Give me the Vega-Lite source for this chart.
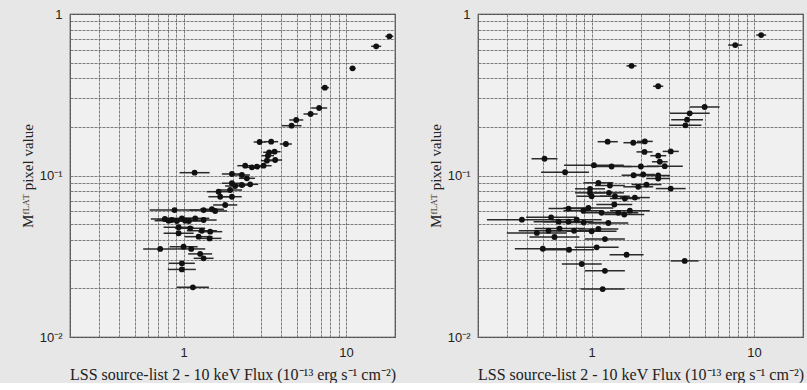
{
  "$schema": "https://vega.github.io/schema/vega-lite/v6.json",
  "padding": {"left": 19, "top": 7, "right": 0, "bottom": 0},
  "background": "#e7e7e7",
  "bounds": "flush",
  "spacing": 83,
  "config": {
    "view": {"stroke": "#333333", "strokeWidth": 1.2, "fill": "#f0f0f0"},
    "axis": {
      "grid": true,
      "gridColor": "#6e6e6e",
      "gridDash": [3, 1],
      "gridWidth": 0.9,
      "gridOpacity": 1,
      "ticks": false,
      "domain": false,
      "labelFont": "Liberation Sans",
      "labelFontSize": 13,
      "labelColor": "#222222",
      "labelOverlap": false,
      "labelFlush": false,
      "titleFont": "Liberation Serif",
      "titleFontSize": 15,
      "titleFontWeight": "normal",
      "titleColor": "#222222"
    }
  },
  "datasets": {
    "left": [
      {"F": 18.47, "M": 0.7276, "lo": 17.45, "hi": 19.55},
      {"F": 15.32, "M": 0.631, "lo": 14.27, "hi": 16.44},
      {"F": 10.96, "M": 0.461, "lo": 10.51, "hi": 11.44},
      {"F": 7.405, "M": 0.35, "lo": 7.0, "hi": 7.84},
      {"F": 6.831, "M": 0.2618, "lo": 6.1, "hi": 7.65},
      {"F": 6.046, "M": 0.2403, "lo": 5.47, "hi": 6.68},
      {"F": 4.931, "M": 0.2207, "lo": 4.47, "hi": 5.45},
      {"F": 4.619, "M": 0.2034, "lo": 4.01, "hi": 5.32},
      {"F": 2.936, "M": 0.1612, "lo": 2.7, "hi": 3.2},
      {"F": 3.46, "M": 0.1619, "lo": 3.13, "hi": 3.82},
      {"F": 4.262, "M": 0.1567, "lo": 3.91, "hi": 4.64},
      {"F": 3.631, "M": 0.1404, "lo": 3.33, "hi": 3.95},
      {"F": 3.364, "M": 0.1392, "lo": 3.09, "hi": 3.66},
      {"F": 3.303, "M": 0.1326, "lo": 3.03, "hi": 3.6},
      {"F": 3.662, "M": 0.1247, "lo": 3.32, "hi": 4.04},
      {"F": 3.256, "M": 0.1235, "lo": 2.99, "hi": 3.55},
      {"F": 2.394, "M": 0.115, "lo": 2.14, "hi": 2.68},
      {"F": 2.633, "M": 0.1124, "lo": 2.35, "hi": 2.95},
      {"F": 2.826, "M": 0.1134, "lo": 2.56, "hi": 3.12},
      {"F": 3.107, "M": 0.115, "lo": 2.77, "hi": 3.48},
      {"F": 1.169, "M": 0.1041, "lo": 0.945, "hi": 1.446},
      {"F": 1.983, "M": 0.1022, "lo": 1.72, "hi": 2.28},
      {"F": 2.285, "M": 0.1007, "lo": 2.04, "hi": 2.56},
      {"F": 2.452, "M": 0.0961, "lo": 2.19, "hi": 2.75},
      {"F": 1.983, "M": 0.0895, "lo": 1.72, "hi": 2.28},
      {"F": 2.077, "M": 0.0861, "lo": 1.8, "hi": 2.39},
      {"F": 2.285, "M": 0.0873, "lo": 1.98, "hi": 2.63},
      {"F": 2.57, "M": 0.0882, "lo": 2.29, "hi": 2.88},
      {"F": 1.935, "M": 0.0813, "lo": 1.63, "hi": 2.29},
      {"F": 1.642, "M": 0.0794, "lo": 1.39, "hi": 1.95},
      {"F": 1.68, "M": 0.0739, "lo": 1.42, "hi": 1.99},
      {"F": 1.983, "M": 0.0739, "lo": 1.72, "hi": 2.28},
      {"F": 1.803, "M": 0.0657, "lo": 1.52, "hi": 2.14},
      {"F": 1.494, "M": 0.0618, "lo": 1.26, "hi": 1.77},
      {"F": 1.328, "M": 0.0611, "lo": 1.09, "hi": 1.62},
      {"F": 1.565, "M": 0.0603, "lo": 1.32, "hi": 1.85},
      {"F": 0.88, "M": 0.0611, "lo": 0.618, "hi": 1.254},
      {"F": 0.976, "M": 0.0543, "lo": 0.789, "hi": 1.207},
      {"F": 0.847, "M": 0.053, "lo": 0.685, "hi": 1.048},
      {"F": 0.808, "M": 0.0525, "lo": 0.663, "hi": 0.986},
      {"F": 1.023, "M": 0.0525, "lo": 0.827, "hi": 1.265},
      {"F": 1.179, "M": 0.0543, "lo": 0.967, "hi": 1.438},
      {"F": 1.328, "M": 0.053, "lo": 1.105, "hi": 1.597},
      {"F": 0.932, "M": 0.0478, "lo": 0.753, "hi": 1.153},
      {"F": 1.098, "M": 0.0471, "lo": 0.888, "hi": 1.358},
      {"F": 1.296, "M": 0.0455, "lo": 1.048, "hi": 1.603},
      {"F": 0.932, "M": 0.0439, "lo": 0.753, "hi": 1.153},
      {"F": 1.458, "M": 0.0449, "lo": 1.23, "hi": 1.73},
      {"F": 1.237, "M": 0.0418, "lo": 1.014, "hi": 1.509},
      {"F": 1.445, "M": 0.0408, "lo": 1.22, "hi": 1.71},
      {"F": 0.718, "M": 0.0351, "lo": 0.564, "hi": 0.914},
      {"F": 1.0, "M": 0.0362, "lo": 0.82, "hi": 1.22},
      {"F": 1.114, "M": 0.0351, "lo": 0.913, "hi": 1.359},
      {"F": 1.265, "M": 0.0327, "lo": 1.067, "hi": 1.499},
      {"F": 1.328, "M": 0.0307, "lo": 1.153, "hi": 1.53},
      {"F": 0.976, "M": 0.0286, "lo": 0.812, "hi": 1.173},
      {"F": 0.976, "M": 0.0262, "lo": 0.8, "hi": 1.19},
      {"F": 1.141, "M": 0.0203, "lo": 0.909, "hi": 1.431},
      {"F": 0.767, "M": 0.0538, "lo": 0.629, "hi": 0.935},
      {"F": 0.909, "M": 0.0523, "lo": 0.745, "hi": 1.109},
      {"F": 1.078, "M": 0.0523, "lo": 0.897, "hi": 1.296}
    ],
    "right": [
      {"F": 11.06, "M": 0.7406, "lo": 10.31, "hi": 11.87},
      {"F": 7.656, "M": 0.642, "lo": 6.93, "hi": 8.45},
      {"F": 1.762, "M": 0.4775, "lo": 1.64, "hi": 1.89},
      {"F": 2.57, "M": 0.357, "lo": 2.39, "hi": 2.76},
      {"F": 4.963, "M": 0.2656, "lo": 4.02, "hi": 6.13},
      {"F": 4.015, "M": 0.2427, "lo": 3.03, "hi": 5.33},
      {"F": 3.87, "M": 0.2218, "lo": 3.09, "hi": 4.85},
      {"F": 3.779, "M": 0.2044, "lo": 3.01, "hi": 4.74},
      {"F": 1.255, "M": 0.1619, "lo": 1.09, "hi": 1.45},
      {"F": 1.805, "M": 0.1596, "lo": 1.57, "hi": 2.08},
      {"F": 2.126, "M": 0.1626, "lo": 1.9, "hi": 2.38},
      {"F": 0.5133, "M": 0.127, "lo": 0.427, "hi": 0.617},
      {"F": 2.117, "M": 0.14, "lo": 1.89, "hi": 2.37},
      {"F": 3.07, "M": 0.141, "lo": 2.74, "hi": 3.44},
      {"F": 2.57, "M": 0.1326, "lo": 2.3, "hi": 2.88},
      {"F": 2.629, "M": 0.1216, "lo": 2.35, "hi": 2.94},
      {"F": 1.034, "M": 0.1159, "lo": 0.677, "hi": 1.58},
      {"F": 1.328, "M": 0.1137, "lo": 1.0, "hi": 1.76},
      {"F": 2.01, "M": 0.1137, "lo": 1.56, "hi": 2.59},
      {"F": 2.82, "M": 0.1142, "lo": 2.19, "hi": 3.64},
      {"F": 0.687, "M": 0.1048, "lo": 0.489, "hi": 0.964},
      {"F": 1.813, "M": 0.1004, "lo": 1.53, "hi": 2.15},
      {"F": 2.078, "M": 0.1014, "lo": 1.75, "hi": 2.46},
      {"F": 2.57, "M": 0.1, "lo": 2.17, "hi": 3.04},
      {"F": 2.57, "M": 0.0958, "lo": 2.17, "hi": 3.04},
      {"F": 1.101, "M": 0.0901, "lo": 0.891, "hi": 1.361},
      {"F": 1.297, "M": 0.0867, "lo": 1.049, "hi": 1.603},
      {"F": 1.937, "M": 0.0851, "lo": 1.567, "hi": 2.394},
      {"F": 2.178, "M": 0.0879, "lo": 1.762, "hi": 2.692},
      {"F": 3.07, "M": 0.083, "lo": 2.484, "hi": 3.794},
      {"F": 0.978, "M": 0.0827, "lo": 0.791, "hi": 1.209},
      {"F": 0.978, "M": 0.0781, "lo": 0.791, "hi": 1.209},
      {"F": 1.001, "M": 0.0744, "lo": 0.81, "hi": 1.237},
      {"F": 1.279, "M": 0.0781, "lo": 1.035, "hi": 1.581},
      {"F": 1.392, "M": 0.0744, "lo": 1.126, "hi": 1.72},
      {"F": 1.603, "M": 0.072, "lo": 1.297, "hi": 1.981},
      {"F": 1.846, "M": 0.073, "lo": 1.494, "hi": 2.282},
      {"F": 1.38, "M": 0.0661, "lo": 1.07, "hi": 1.78},
      {"F": 0.956, "M": 0.063, "lo": 0.671, "hi": 1.361},
      {"F": 0.891, "M": 0.0606, "lo": 0.672, "hi": 1.182},
      {"F": 1.153, "M": 0.0587, "lo": 0.869, "hi": 1.53},
      {"F": 0.721, "M": 0.0624, "lo": 0.543, "hi": 0.956},
      {"F": 1.46, "M": 0.0587, "lo": 1.101, "hi": 1.937},
      {"F": 1.589, "M": 0.0573, "lo": 1.198, "hi": 2.108},
      {"F": 1.72, "M": 0.0606, "lo": 1.297, "hi": 2.282},
      {"F": 0.3725, "M": 0.0533, "lo": 0.227, "hi": 0.611},
      {"F": 0.5635, "M": 0.0551, "lo": 0.396, "hi": 0.802},
      {"F": 0.6257, "M": 0.0518, "lo": 0.44, "hi": 0.891},
      {"F": 0.721, "M": 0.0518, "lo": 0.506, "hi": 1.026},
      {"F": 0.81, "M": 0.0533, "lo": 0.569, "hi": 1.153},
      {"F": 0.894, "M": 0.0511, "lo": 0.628, "hi": 1.273},
      {"F": 1.268, "M": 0.0508, "lo": 0.956, "hi": 1.682},
      {"F": 0.4604, "M": 0.0441, "lo": 0.301, "hi": 0.703},
      {"F": 0.5433, "M": 0.0455, "lo": 0.356, "hi": 0.83},
      {"F": 0.6347, "M": 0.0469, "lo": 0.446, "hi": 0.904},
      {"F": 0.78, "M": 0.0455, "lo": 0.548, "hi": 1.11},
      {"F": 1.001, "M": 0.0451, "lo": 0.703, "hi": 1.425},
      {"F": 1.101, "M": 0.0467, "lo": 0.83, "hi": 1.461},
      {"F": 0.591, "M": 0.0416, "lo": 0.415, "hi": 0.841},
      {"F": 1.208, "M": 0.0404, "lo": 0.911, "hi": 1.603},
      {"F": 0.501, "M": 0.0352, "lo": 0.337, "hi": 0.744},
      {"F": 0.727, "M": 0.0347, "lo": 0.511, "hi": 1.035},
      {"F": 1.075, "M": 0.0359, "lo": 0.788, "hi": 1.467},
      {"F": 1.642, "M": 0.0323, "lo": 1.291, "hi": 2.088},
      {"F": 3.741, "M": 0.0296, "lo": 3.07, "hi": 4.558},
      {"F": 0.87, "M": 0.0283, "lo": 0.656, "hi": 1.154},
      {"F": 1.208, "M": 0.0257, "lo": 0.911, "hi": 1.603},
      {"F": 1.17, "M": 0.0198, "lo": 0.857, "hi": 1.597}
    ]
  },
  "hconcat": [
    {
      "width": 325,
      "height": 323,
      "data": {"name": "left"},
      "encoding": {
        "y": {
          "field": "M", "type": "quantitative",
          "scale": {"type": "log", "domain": [0.01, 1], "nice": false},
          "title": "Mᶠᴸᴬᵀ pixel value",
          "axis": {
            "values": [0.01, 0.02, 0.03, 0.04, 0.05, 0.06, 0.07, 0.08, 0.09, 0.1, 0.2, 0.3, 0.4, 0.5, 0.6, 0.7, 0.8, 0.9, 1],
            "labelExpr": "datum.value == 1 ? '1' : datum.value == 0.1 ? '10⁻¹' : datum.value == 0.01 ? '10⁻²' : ''",
            "labelPadding": 8,
            "titlePadding": 4
          }
        }
      },
      "layer": [
        {
          "mark": {"type": "rule", "color": "#2a2a2a", "strokeWidth": 1.5},
          "encoding": {
            "x": {
              "field": "lo", "type": "quantitative",
              "scale": {"type": "log", "domain": [0.2, 20], "nice": false},
              "title": "LSS source-list  2 - 10 keV Flux (10⁻¹³ erg s⁻¹ cm⁻²)",
              "axis": {
                "values": [0.2, 0.3, 0.4, 0.5, 0.6, 0.7, 0.8, 0.9, 1, 2, 3, 4, 5, 6, 7, 8, 9, 10, 20],
                "labelExpr": "datum.value == 1 ? '1' : datum.value == 10 ? '10' : ''",
                "labelPadding": 9,
                "titlePadding": 7,
                "titleFontSize": 16
              }
            },
            "x2": {"field": "hi"}
          }
        },
        {
          "mark": {"type": "circle", "color": "#111111", "size": 34, "opacity": 1},
          "encoding": {
            "x": {"field": "F", "type": "quantitative", "title": "LSS source-list  2 - 10 keV Flux (10⁻¹³ erg s⁻¹ cm⁻²)"}
          }
        }
      ]
    },
    {
      "width": 325,
      "height": 323,
      "data": {"name": "right"},
      "encoding": {
        "y": {
          "field": "M", "type": "quantitative",
          "scale": {"type": "log", "domain": [0.01, 1], "nice": false},
          "title": "Mᶠᴸᴬᵀ pixel value",
          "axis": {
            "values": [0.01, 0.02, 0.03, 0.04, 0.05, 0.06, 0.07, 0.08, 0.09, 0.1, 0.2, 0.3, 0.4, 0.5, 0.6, 0.7, 0.8, 0.9, 1],
            "labelExpr": "datum.value == 1 ? '1' : datum.value == 0.1 ? '10⁻¹' : datum.value == 0.01 ? '10⁻²' : ''",
            "labelPadding": 8,
            "titlePadding": 4
          }
        }
      },
      "layer": [
        {
          "mark": {"type": "rule", "color": "#2a2a2a", "strokeWidth": 1.5},
          "encoding": {
            "x": {
              "field": "lo", "type": "quantitative",
              "scale": {"type": "log", "domain": [0.2, 20], "nice": false},
              "title": "LSS source-list  2 - 10 keV Flux (10⁻¹³ erg s⁻¹ cm⁻²)",
              "axis": {
                "values": [0.2, 0.3, 0.4, 0.5, 0.6, 0.7, 0.8, 0.9, 1, 2, 3, 4, 5, 6, 7, 8, 9, 10, 20],
                "labelExpr": "datum.value == 1 ? '1' : datum.value == 10 ? '10' : ''",
                "labelPadding": 9,
                "titlePadding": 7,
                "titleFontSize": 16
              }
            },
            "x2": {"field": "hi"}
          }
        },
        {
          "mark": {"type": "circle", "color": "#111111", "size": 34, "opacity": 1},
          "encoding": {
            "x": {"field": "F", "type": "quantitative", "title": "LSS source-list  2 - 10 keV Flux (10⁻¹³ erg s⁻¹ cm⁻²)"}
          }
        }
      ]
    }
  ]
}
